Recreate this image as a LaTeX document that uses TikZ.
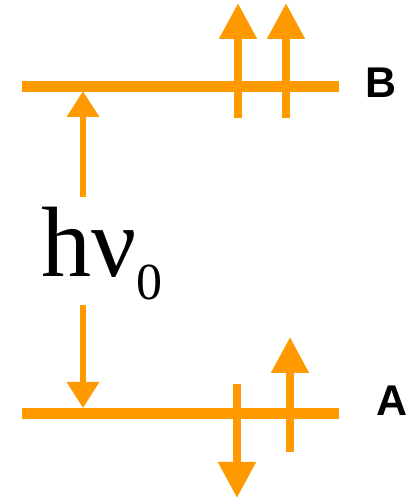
\documentclass[tikz,border=0pt]{standalone}
\usepackage{fontspec}
\setmainfont{Liberation Serif}
\newfontfamily\labelfont{Liberation Sans}
\usepackage{tikz}
\usetikzlibrary{arrows.meta}
\definecolor{levelorange}{RGB}{255,153,0}

\begin{document}
\begin{tikzpicture}[
    x=1pt, y=1pt,
    level/.style={levelorange, line width=11pt},
    spin/.style={-{Triangle[length=36pt, width=36pt]}, levelorange, line width=8pt},
    gap/.style={-{Triangle[length=26pt, width=31pt]}, levelorange, line width=6.5pt},
    lbl/.style={font=\labelfont\bfseries\fontsize{43}{43}\selectfont, inner sep=0pt}
]
\useasboundingbox (0,0) rectangle (409,499);

% energy levels
\coordinate (Bl) at (22,412.5);
\coordinate (Br) at (339,412.5);
\coordinate (Al) at (22,85);
\coordinate (Ar) at (339,85);
\draw[level] (Bl) -- (Br);
\draw[level] (Al) -- (Ar);

\node[lbl] (B) at (381,416) {B};
\node[lbl] (A) at (392,98) {A};

% spins on B
\coordinate (b1s) at (238,381);
\coordinate (b1e) at (238,496);
\coordinate (b2s) at (286,381);
\coordinate (b2e) at (286,496);
\draw[spin] (b1s) -- (b1e);
\draw[spin] (b2s) -- (b2e);

% spins on A
\coordinate (a1s) at (237,115);
\coordinate (a1e) at (237,1);
\coordinate (a2s) at (290,47);
\coordinate (a2e) at (290,162);
\draw[spin] (a1s) -- (a1e);
\draw[spin] (a2s) -- (a2e);

% transition energy
\node[anchor=base west, inner sep=0pt] (hnu) at (41,222)
    {\fontsize{100}{100}\selectfont hν\raisebox{-23pt}{\fontsize{52}{52}\selectfont 0}};
\coordinate (up0) at (83,302);
\coordinate (up1) at (83,408);
\coordinate (dn0) at (83,194);
\coordinate (dn1) at (83,91);
\draw[gap] (up0) -- (up1);
\draw[gap] (dn0) -- (dn1);

\end{tikzpicture}
\end{document}
